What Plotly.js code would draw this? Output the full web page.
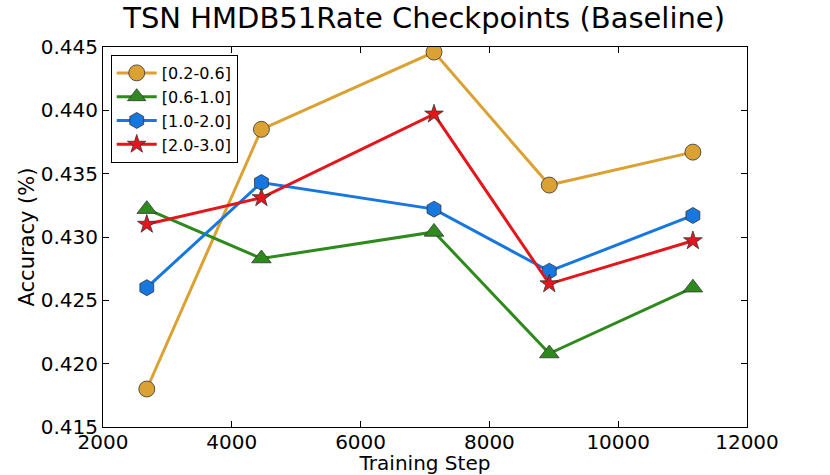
<!DOCTYPE html>
<html>
<head>
<meta charset="utf-8">
<script src="https://cdn.plot.ly/plotly-3.0.1.min.js"></script>
<style>html,body{margin:0;padding:0;background:#fff;}</style>
</head>
<body>
<div id="chart" style="width:830px;height:475px;"></div>
<script>
const steps = [2680, 4460, 7140, 8930, 11160];
const seriesNames = ["[0.2-0.6]", "[0.6-1.0]", "[1.0-2.0]", "[2.0-3.0]"];
const acc02_06 = [0.4180, 0.4385, 0.4446, 0.4341, 0.4367];
const acc06_10 = [0.4322, 0.4283, 0.4304, 0.4208, 0.4260];
const acc10_20 = [0.4260, 0.4343, 0.4322, 0.4273, 0.4317];
const acc20_30 = [0.4310, 0.4331, 0.4397, 0.4263, 0.4297];
const xTicks = [2000, 4000, 6000, 8000, 10000, 12000];
const yTicks = [0.415, 0.420, 0.425, 0.430, 0.435, 0.440, 0.445];

const colors = ["#dba132", "#2f8a1d", "#1677e0", "#e3161b"];
const symbols = ["circle", "triangle-up", "hexagon", "star"];
const sizes = [16, 17, 16, 14];
const values = [acc02_06, acc06_10, acc10_20, acc20_30];

const traces = values.map((v, i) => ({
  x: steps, y: v, name: seriesNames[i], type: "scatter", mode: "lines+markers",
  line: {color: colors[i], width: 3},
  marker: {symbol: symbols[i], size: sizes[i], color: colors[i], line: {color: "#333333", width: 0.8}}
}));

const font = {family: "DejaVu Sans, sans-serif", color: "#000"};
const layout = {
  width: 830, height: 475,
  margin: {l: 103, r: 83, t: 47, b: 48},
  paper_bgcolor: "#fff", plot_bgcolor: "#fff",
  title: {text: "TSN HMDB51Rate Checkpoints (Baseline)", font: Object.assign({size: 29}, font), x: 0.511, xanchor: "center", y: 0.962, yanchor: "middle"},
  xaxis: {
    range: [2000, 12000], tickvals: xTicks, ticktext: xTicks.map(String),
    showgrid: false, zeroline: false, showline: true, linecolor: "#000", linewidth: 1, mirror: "ticks",
    ticks: "inside", ticklen: 6, tickcolor: "#000", ticklabelstandoff: -3,
    tickfont: Object.assign({size: 20}, font),
    title: {text: "Training Step", font: Object.assign({size: 20}, font), standoff: 1}
  },
  yaxis: {
    range: [0.415, 0.445], tickvals: yTicks, ticktext: yTicks.map(v => v.toFixed(3)),
    showgrid: false, zeroline: false, showline: true, linecolor: "#000", linewidth: 1, mirror: "ticks",
    ticks: "inside", ticklen: 6, tickcolor: "#000",
    tickfont: Object.assign({size: 20}, font),
    title: {text: "Accuracy (%)", font: Object.assign({size: 21}, font), standoff: 0}
  },
  legend: {
    x: 0.012, y: 0.979, xanchor: "left", yanchor: "top",
    bgcolor: "#fff", bordercolor: "#000", borderwidth: 1,
    font: Object.assign({size: 16}, font), tracegroupgap: 0, itemwidth: 40
  },
  showlegend: true
};
Plotly.newPlot("chart", traces, layout, {displayModeBar: false, staticPlot: true});
</script>
</body>
</html>
